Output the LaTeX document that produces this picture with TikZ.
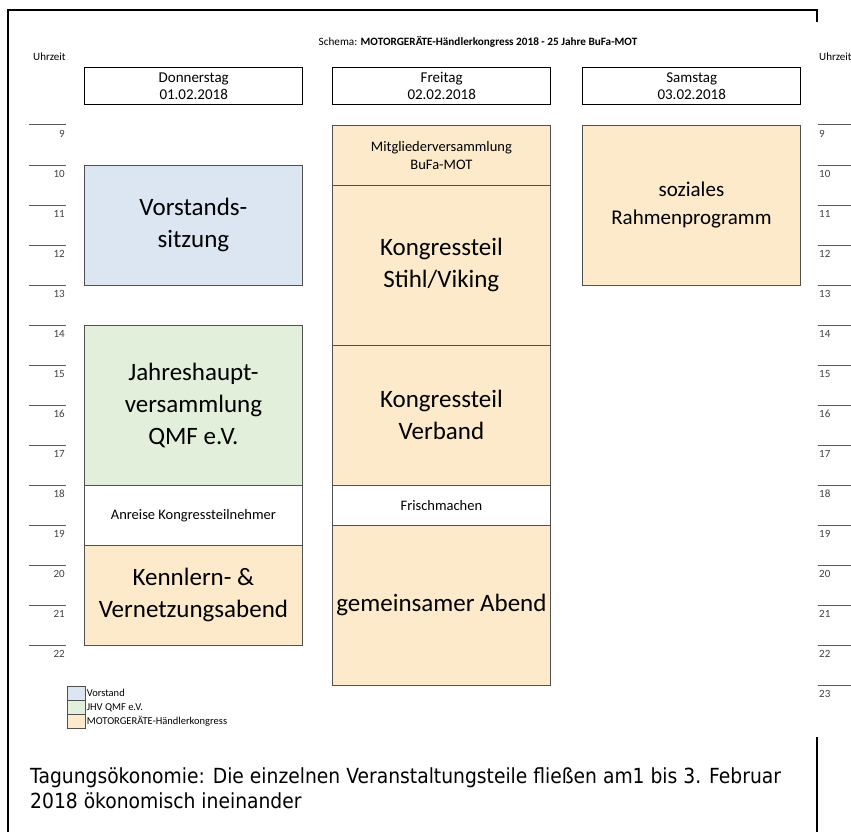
\documentclass[tikz,border=0pt]{standalone}
\usepackage{fontspec}
\setmainfont{Carlito}
\newfontfamily\capfont[FakeStretch=0.9]{DejaVu Sans}
\usepackage{xcolor}
\usepackage{tikz}
\definecolor{vorstandblue}{HTML}{DCE6F2}
\definecolor{jhvgreen}{HTML}{E2EFDA}
\definecolor{kongressorange}{HTML}{FCEACA}
\definecolor{boxgray}{HTML}{505050}
\tikzset{ day_box/.style = {rectangle, draw, line width=1.4pt, minimum width=218pt, minimum height=37pt, anchor=north west, align=center, inner sep=0pt, font=\fontsize{15}{17}\selectfont} }
\tikzset{ event/.style = {rectangle, draw=boxgray, line width=0.8pt, minimum width=218pt, anchor=north west, align=center, inner sep=0pt} }
\tikzset{ big_text/.style = {font=\fontsize{25}{32}\selectfont} }
\tikzset{ small_text/.style = {font=\fontsize{14.5}{18}\selectfont} }
\tikzset{ hour/.style = {font=\fontsize{11}{12}\selectfont, inner sep=0pt, text=black!75} }
\tikzset{ legend_box/.style = {rectangle, draw=boxgray, line width=0.6pt, minimum width=18pt, minimum height=14pt, anchor=north west, inner sep=0pt} }
\tikzset{ legend_text/.style = {anchor=west, inner sep=1pt, font=\fontsize{10.5}{12}\selectfont} }

\begin{document}
\begin{tikzpicture}[x=1pt, y=-1pt]
                \useasboundingbox (0,0) rectangle (851,832);
                % frame
                \draw[line width=1.5pt] (817,22) -- (817,10) -- (8,10) -- (8,832);
                \draw[line width=1.5pt] (817,737) -- (817,832);
                \node (title) at (478,42) {\fontsize{11.2}{13}\selectfont Schema: \textbf{MOTORGERÄTE-Händlerkongress 2018 - 25 Jahre BuFa-MOT}};
                \node [anchor=west, inner sep=0pt, font=\fontsize{11}{13}\selectfont] (uhrL) at (33,57) {Uhrzeit};
                \node [anchor=west, inner sep=0pt, font=\fontsize{11}{13}\selectfont] (uhrR) at (819,57) {Uhrzeit};
                % days
                \node [day_box] (Do) at (84,67) {Donnerstag\\01.02.2018};
                \node [day_box] (Fr) at (332,67) {Freitag\\02.02.2018};
                \node [day_box] (Sa) at (582,67) {Samstag\\03.02.2018};
                % time scale
                \foreach \h in {9,...,22} {
                        \draw[black!65, line width=1pt] (29,{125+40*(\h-9)}) -- (66,{125+40*(\h-9)});
                        \node [hour, anchor=east] (l\h) at (65,{133.5+40*(\h-9)}) {\h};
                }
                \foreach \h in {9,...,23} {
                        \draw[black!65, line width=1pt] (818,{125+40*(\h-9)}) -- (851,{125+40*(\h-9)});
                        \node [hour, anchor=west] (r\h) at (819,{133.5+40*(\h-9)}) {\h};
                }
                % Donnerstag
                \node [event, big_text, fill=vorstandblue, minimum height=120pt] (VS) at (84,165) {Vorstands-\\sitzung};
                \node [event, big_text, fill=jhvgreen, minimum height=160pt] (JHV) at (84,325) {Jahreshaupt-\\versammlung\\QMF e.V.};
                \node [event, small_text, fill=white, minimum height=60pt] (AN) at (84,485) {Anreise Kongressteilnehmer};
                \node [event, big_text, fill=kongressorange, minimum height=100pt] (KV) at (84,545) {Kennlern- \&\\Vernetzungsabend};
                % Freitag
                \node [event, small_text, fill=kongressorange, minimum height=60pt] (MV) at (332,125) {Mitgliederversammlung\\BuFa-MOT};
                \node [event, big_text, fill=kongressorange, minimum height=160pt] (KS) at (332,185) {Kongressteil\\Stihl/Viking};
                \node [event, big_text, fill=kongressorange, minimum height=140pt] (KB) at (332,345) {Kongressteil\\Verband};
                \node [event, small_text, fill=white, minimum height=40pt] (FM) at (332,485) {Frischmachen};
                \node [event, big_text, fill=kongressorange, minimum height=160pt] (GA) at (332,525) {gemeinsamer Abend};
                % Samstag
                \node [event, fill=kongressorange, minimum height=160pt, font=\fontsize{21}{28}\selectfont] (SR) at (582,125) {soziales\\Rahmenprogramm};
                % legend
                \node [legend_box, fill=vorstandblue] (lgV) at (67,686) {};
                \node [legend_box, fill=jhvgreen] (lgJ) at (67,700) {};
                \node [legend_box, fill=kongressorange] (lgM) at (67,714) {};
                \node [legend_text] (txV) at (lgV.east) {Vorstand};
                \node [legend_text] (txJ) at (lgJ.east) {JHV QMF e.V.};
                \node [legend_text] (txM) at (lgM.east) {MOTORGERÄTE-Händlerkongress};
                % caption
                \node [anchor=base west, inner sep=0pt, font=\capfont\fontsize{20.8}{25}\selectfont] (cap1) at (30,783) {Tagungsökonomie: Die einzelnen Veranstaltungsteile fließen am1 bis 3. Februar};
                \node [anchor=base west, inner sep=0pt, font=\capfont\fontsize{20.8}{25}\selectfont] (cap2) at (30,808) {2018 ökonomisch ineinander};
        \end{tikzpicture}
\end{document}
